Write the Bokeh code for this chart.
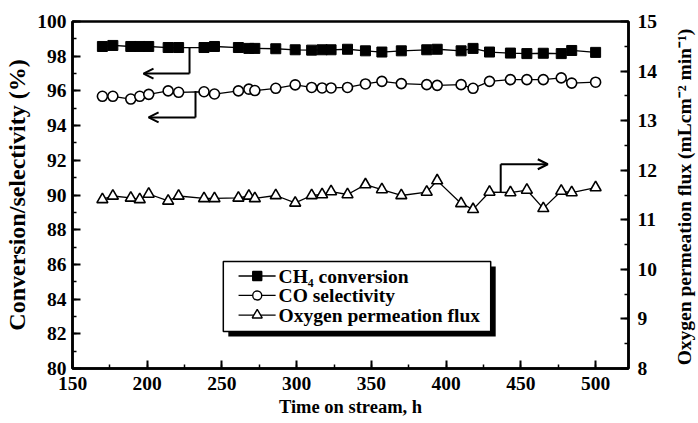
import math
from bokeh.plotting import figure
from bokeh.layouts import row
from bokeh.models import Range1d, LinearAxis, SingleIntervalTicker, Arrow, OpenHead
from bokeh.core.properties import value
from bokeh.embed import file_html
from bokeh.resources import INLINE

# ---------------- data ----------------
hours = [170, 177, 189, 195, 201, 214, 221, 238, 245, 261, 268, 272, 286, 299, 310, 317,
         323, 334, 346, 357, 370, 387, 394, 410, 418, 429, 443, 454, 465, 477, 484, 500]
ch4_conversion = [98.56, 98.62, 98.56, 98.56, 98.56, 98.50, 98.50, 98.50, 98.56, 98.50, 98.45,
                  98.45, 98.43, 98.37, 98.35, 98.37, 98.37, 98.40, 98.31, 98.24, 98.31, 98.37,
                  98.40, 98.31, 98.45, 98.24, 98.18, 98.15, 98.17, 98.15, 98.33, 98.22]
co_selectivity = [95.69, 95.69, 95.53, 95.69, 95.80, 96.00, 95.92, 95.95, 95.82, 96.00, 96.10,
                  96.02, 96.15, 96.35, 96.20, 96.17, 96.17, 96.20, 96.40, 96.55, 96.42, 96.36,
                  96.32, 96.36, 96.15, 96.55, 96.65, 96.65, 96.65, 96.75, 96.45, 96.50]
o2_flux = [11.41, 11.48, 11.44, 11.41, 11.52, 11.38, 11.48, 11.43, 11.43, 11.44, 11.48, 11.43,
           11.49, 11.34, 11.49, 11.51, 11.57, 11.51, 11.71, 11.61, 11.49, 11.56, 11.79, 11.33,
           11.21, 11.56, 11.55, 11.60, 11.23, 11.58, 11.55, 11.65]

series_labels = ["CH\u2084 conversion", "CO selectivity", "Oxygen permeation flux"]
x_label = "Time on stream, h"
y_label = "Conversion/selectivity (%)"
y2_label = "Oxygen permeation flux (mLcm\u207b\u00b2 min\u207b\u00b9)"

FONT = "Liberation Serif"

p = figure(width=670, height=423, output_backend="svg", toolbar_location=None,
           x_range=Range1d(150, 522), y_range=Range1d(80, 100),
           min_border_left=72, min_border_right=42, min_border_top=21, min_border_bottom=55)
p.extra_y_ranges = {"flux": Range1d(8, 15)}
p.grid.visible = False
p.outline_line_color = "black"
p.outline_line_width = 2.5
p.outline_line_alpha = 1.0


def style(ax, interval, label, label_size):
    ax.ticker = SingleIntervalTicker(interval=interval, num_minor_ticks=2)
    ax.axis_line_width = 2.5
    ax.axis_line_color = "black"
    ax.major_tick_in = 8
    ax.major_tick_out = 0
    ax.minor_tick_in = 4
    ax.minor_tick_out = 0
    ax.major_tick_line_width = 2
    ax.minor_tick_line_width = 1.5
    ax.major_tick_line_color = "black"
    ax.minor_tick_line_color = "black"
    ax.major_label_text_font = FONT
    ax.major_label_text_font_style = "bold"
    ax.major_label_text_font_size = "19.5px"
    ax.major_label_text_color = "black"
    if label:
        ax.axis_label = label
        ax.axis_label_text_font = FONT
        ax.axis_label_text_font_style = "bold"
        ax.axis_label_text_font_size = label_size
        ax.axis_label_text_color = "black"


style(p.xaxis[0], 50, x_label, "18.5px")
p.xaxis[0].major_label_standoff = 8
p.xaxis[0].axis_label_standoff = 4
style(p.yaxis[0], 2, y_label, "24px")
p.yaxis[0].major_label_standoff = 6
p.yaxis[0].axis_label_standoff = 4
right = LinearAxis(y_range_name="flux")
style(right, 1, None, None)
right.major_label_standoff = 9
p.add_layout(right, "right")

# series
p.line(hours, ch4_conversion, line_color="black", line_width=1.3)
p.scatter(hours, ch4_conversion, marker="square", size=10, fill_color="black", line_color="black")
p.line(hours, co_selectivity, line_color="black", line_width=1.3)
p.scatter(hours, co_selectivity, marker="circle", size=10, fill_color="white",
          line_color="black", line_width=1.6)
p.line(hours, o2_flux, line_color="black", line_width=1.3, y_range_name="flux")
p.scatter(hours, o2_flux, marker="triangle", size=11, fill_color="white",
          line_color="black", line_width=1.6, y_range_name="flux")

# pointer arrows (annotation positions)
arrow_ch4 = dict(x0=228.3, y0=98.5, y1=97.0, x1=197.5)
arrow_co = dict(x0=232.3, y0=96.0, y1=94.47, x1=200.9)
arrow_fx = dict(x0=436.5, y0=11.55, y1=12.12, x1=468.0)
for a, rng in ((arrow_ch4, "default"), (arrow_co, "default"), (arrow_fx, "flux")):
    p.line([a["x0"], a["x0"]], [a["y0"], a["y1"]], line_color="black", line_width=2,
           y_range_name=rng)
    p.add_layout(Arrow(end=OpenHead(size=10, line_width=2, line_color="black"),
                       x_start=a["x0"], y_start=a["y1"], x_end=a["x1"], y_end=a["y1"],
                       line_width=2, line_color="black", y_range_name=rng))

# legend (drawn manually with drop shadow)
leg_box = dict(left=250.9, right=429.8, top=86.17, bottom=82.13)
shadow_dx, shadow_dy = 3.35, 0.29
p.quad(left=leg_box["left"] + shadow_dx, right=leg_box["right"] + shadow_dx,
       top=leg_box["top"] - shadow_dy, bottom=leg_box["bottom"] - shadow_dy,
       fill_color="black", line_color=None)
p.quad(left=leg_box["left"], right=leg_box["right"], top=leg_box["top"],
       bottom=leg_box["bottom"], fill_color="white", line_color="black", line_width=1.5)
row_y = [85.33, 84.21, 83.08]
markers = [("square", "black", 9), ("circle", "white", 9), ("triangle", "white", 10)]
for yy, (mk, fc, sz), lab in zip(row_y, markers, series_labels):
    p.line([261.1, 285.9], [yy, yy], line_color="black", line_width=1.3)
    p.scatter([273.6], [yy], marker=mk, size=sz, fill_color=fc, line_color="black",
              line_width=1.4)
    p.text([287.9], [yy], text=[lab], text_font=value(FONT), text_font_style="bold",
           text_font_size="19.5px", text_baseline="middle", text_align="left",
           text_color="black")

# right-hand axis title in a narrow strip beside the chart (reads bottom to top)
strip = figure(width=28, height=423, output_backend="svg", toolbar_location=None,
               x_range=Range1d(0, 28), y_range=Range1d(0, 423), min_border=0,
               x_axis_location=None, y_axis_location=None, outline_line_color=None)
strip.grid.visible = False
strip.text([13.5], [209], text=[y2_label], angle=math.pi / 2, text_align="center",
           text_baseline="middle", text_font=value(FONT), text_font_style="bold",
           text_font_size="19.5px", text_color="black")

layout = row(p, strip, spacing=0)
open("out.html", "w").write(file_html(layout, INLINE))
